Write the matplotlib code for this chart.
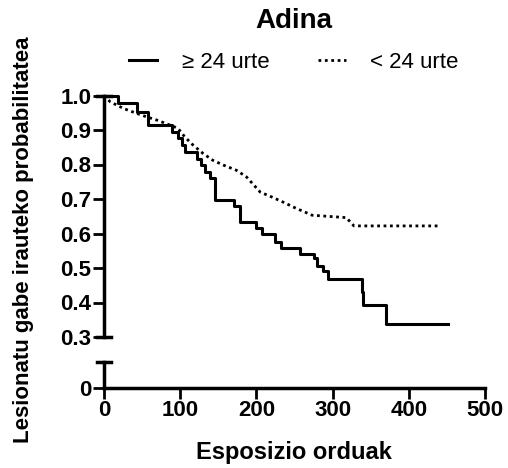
import matplotlib.pyplot as plt

plt.rcParams['font.family'] = ['Liberation Sans', 'DejaVu Sans']

# ≥ 24 urte (Kaplan-Meier, eskailera-kurba)
t_zaharrak = [0, 19, 43, 58, 89, 97, 102, 106, 122, 127, 133, 139, 146, 170, 178,
              200, 207, 224, 232, 257, 275, 279, 288, 294, 338, 340, 370, 452]
s_zaharrak = [1.0, 0.977, 0.953, 0.914, 0.895, 0.876, 0.856, 0.837, 0.817, 0.80,
              0.778, 0.762, 0.696, 0.68, 0.632, 0.616, 0.60, 0.575, 0.558, 0.542,
              0.528, 0.507, 0.49, 0.467, 0.43, 0.394, 0.338, 0.338]

# < 24 urte
t_gazteak = [0, 8, 25, 43, 56, 69, 87, 97, 106, 117, 130, 143, 157, 174, 187,
             205, 220, 235, 253, 268, 273, 318, 328, 441]
s_gazteak = [1.0, 0.982, 0.963, 0.948, 0.938, 0.929, 0.914, 0.905, 0.88, 0.856,
             0.832, 0.812, 0.798, 0.783, 0.764, 0.72, 0.706, 0.691, 0.672, 0.658,
             0.653, 0.646, 0.622, 0.622]

y_ticks = [0.3, 0.4, 0.5, 0.6, 0.7, 0.8, 0.9, 1.0]
x_ticks = [0, 100, 200, 300, 400, 500]

W, H = 508, 468
fig = plt.figure(figsize=(W / 100, H / 100), dpi=100)
ax = fig.add_axes([104 / W, 1 - 337 / H, 381 / W, 241.5 / H])
ax_lo = fig.add_axes([104 / W, 1 - 388 / H, 381 / W, 26 / H])

ax.plot(t_zaharrak, s_zaharrak, drawstyle='steps-post', color='black', lw=2.2,
        clip_on=False, label='≥ 24 urte')
ax.plot(t_gazteak, s_gazteak, color='black', lw=2, ls=(0, (1, 1.3)),
        clip_on=False, label='< 24 urte')

# goiko zatia
ax.set_xlim(0, 500)
ax.set_ylim(0.3, 1.0)
for s in ['top', 'right', 'bottom']:
    ax.spines[s].set_visible(False)
ax.spines['left'].set_linewidth(2.5)
ax.spines['left'].set_bounds(0.3, 1.0)
ax.set_yticks(y_ticks)
ax.set_yticklabels([f'{v:.1f}' for v in y_ticks], fontweight='bold', fontsize=16)
ax.tick_params(axis='y', length=8, width=2, pad=1)
ax.tick_params(axis='x', bottom=False, labelbottom=False)
ax.axhline(1.0, xmin=-0.018, xmax=0.018, color='black', lw=2.5, clip_on=False)
ax.axhline(0.3, xmin=-0.018, xmax=0.018, color='black', lw=2.5, clip_on=False)

# beheko zatia (0)
ax_lo.set_xlim(0, 500)
ax_lo.set_ylim(0, 0.075)
for s in ['top', 'right']:
    ax_lo.spines[s].set_visible(False)
ax_lo.spines['left'].set_linewidth(2.5)
ax_lo.spines['bottom'].set_linewidth(2.5)
ax_lo.set_yticks([0])
ax_lo.set_yticklabels(['0'], fontweight='bold', fontsize=16)
ax_lo.set_xticks(x_ticks)
ax_lo.set_xticklabels([str(v) for v in x_ticks], fontweight='bold', fontsize=16)
ax_lo.tick_params(length=8, width=2, pad=1)
ax_lo.axhline(0.075, xmin=-0.018, xmax=0.018, color='black', lw=2.5, clip_on=False)

fig.text(294 / W, 1 - 21 / H, 'Adina', ha='center', va='center',
         fontweight='bold', fontsize=20)
fig.text(24 / W, 1 - 240 / H, 'Lesionatu gabe irauteko probabilitatea', ha='center',
         va='center', rotation=90, fontweight='bold', fontsize=16)
fig.text(294 / W, 1 - 452 / H, 'Esposizio orduak', ha='center', va='center',
         fontweight='bold', fontsize=17)
fig.legend(loc='center', bbox_to_anchor=(294 / W, 1 - 62 / H), ncol=2, frameon=False,
           fontsize=16, handlelength=1.25, handletextpad=1.1, columnspacing=2.2)

plt.savefig('out.png', dpi=100)
plt.close()
